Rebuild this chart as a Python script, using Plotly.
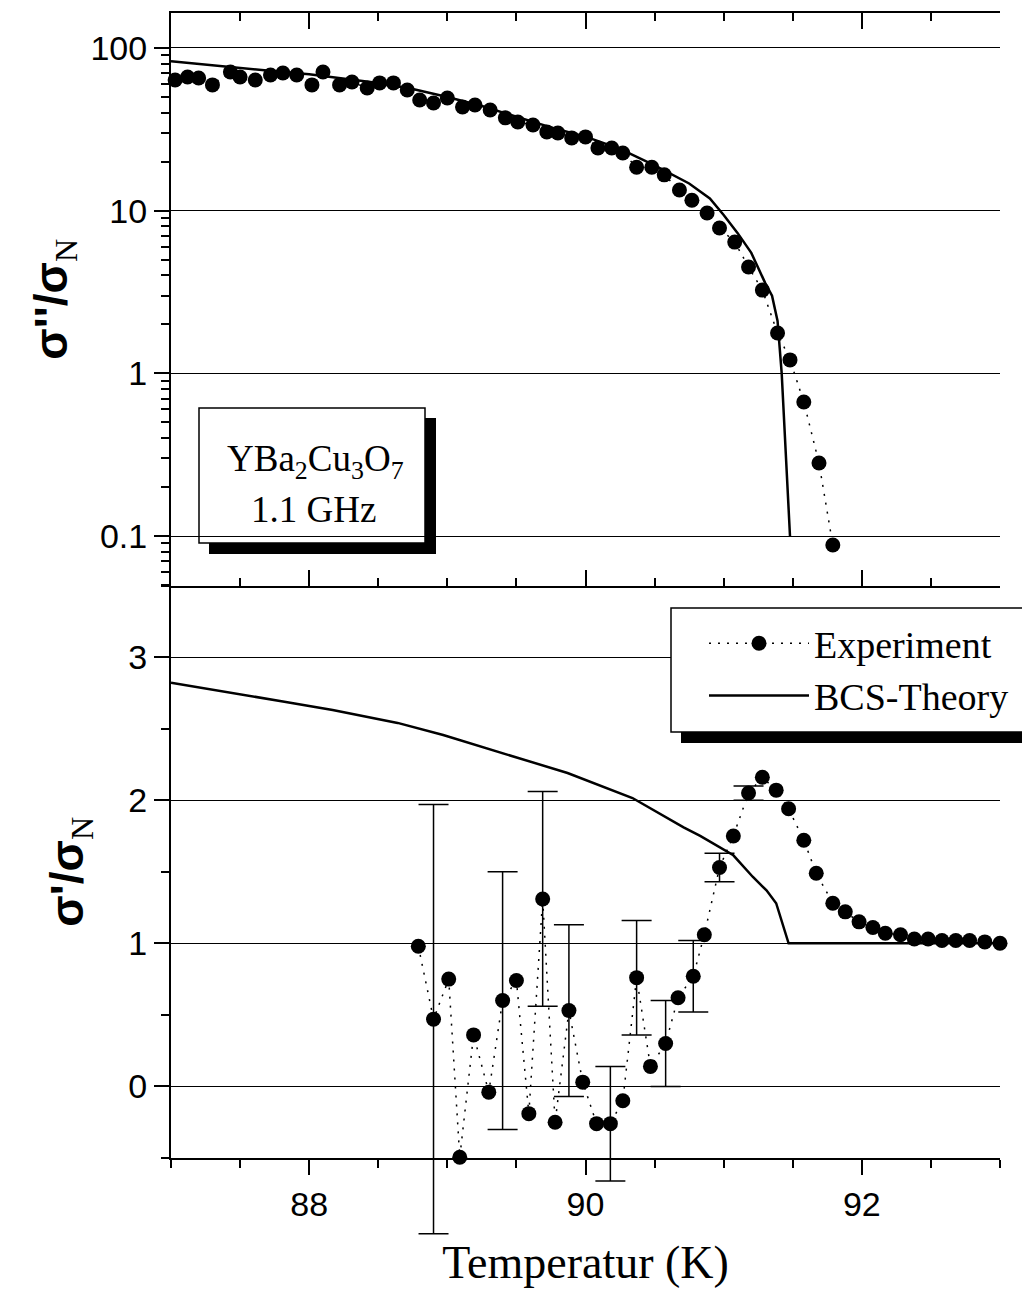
import plotly.graph_objects as go

# ---------------- data ----------------
# top panel: sigma''/sigma_N (log scale)
top_T = [87.03, 87.12, 87.20, 87.30, 87.43, 87.50, 87.61, 87.72, 87.81, 87.91,
         88.02, 88.10, 88.22, 88.31, 88.42, 88.51, 88.61, 88.71, 88.80, 88.90,
         89.00, 89.11, 89.20, 89.31, 89.42, 89.51, 89.62, 89.72, 89.80, 89.90,
         90.00, 90.09, 90.19, 90.27, 90.37, 90.48, 90.57, 90.68, 90.77, 90.88,
         90.97, 91.08, 91.18, 91.28, 91.39, 91.48, 91.58, 91.69, 91.79]
top_val = [63.6, 66.3, 65.4, 59.3, 71.2, 66.3, 63.6, 68.2, 70.2, 68.2,
           59.3, 71.2, 59.3, 61.8, 56.8, 61.0, 61.0, 55.2, 47.9, 45.9,
           49.3, 43.4, 44.6, 41.6, 37.2, 35.1, 33.6, 30.5, 30.0, 28.0,
           28.4, 24.3, 24.3, 22.6, 18.5, 18.5, 16.6, 13.4, 11.6, 9.68,
           7.82, 6.41, 4.51, 3.25, 1.77, 1.21, 0.667, 0.281, 0.088]

bcs_top_T = [87.0, 87.25, 87.5, 87.75, 88.0, 88.25, 88.5, 88.75, 89.0, 89.25,
             89.5, 89.75, 90.0, 90.25, 90.5, 90.6, 90.75, 90.9, 91.0, 91.1,
             91.2, 91.3, 91.35, 91.39, 91.42, 91.48]
bcs_top_val = [83, 79, 75, 72, 69, 65, 61, 56, 50, 44,
               38, 32.5, 28.5, 24, 19, 17.1, 14.7, 11.9, 9.4, 7.3,
               5.5, 3.6, 3.0, 2.1, 1.0, 0.1]

# bottom panel: sigma'/sigma_N (linear)
bot_T = [88.79, 88.90, 89.01, 89.09, 89.19, 89.30, 89.40, 89.50, 89.59, 89.69,
         89.78, 89.88, 89.98, 90.08, 90.18, 90.27, 90.37, 90.47, 90.58, 90.67,
         90.78, 90.86, 90.97, 91.07, 91.18, 91.28, 91.38, 91.47, 91.58, 91.67,
         91.79, 91.88, 91.98, 92.08, 92.17, 92.28, 92.38, 92.48, 92.58, 92.68,
         92.78, 92.89, 93.00]
bot_val = [0.98, 0.47, 0.75, -0.495, 0.36, -0.04, 0.60, 0.74, -0.19, 1.31,
           -0.25, 0.53, 0.03, -0.26, -0.26, -0.10, 0.76, 0.14, 0.30, 0.62,
           0.77, 1.06, 1.53, 1.75, 2.05, 2.16, 2.07, 1.94, 1.72, 1.49,
           1.28, 1.22, 1.15, 1.11, 1.07, 1.06, 1.03, 1.03, 1.02, 1.02,
           1.02, 1.01, 1.00]
# error bars: index into bot_T / bot_val and their +/- size
err_idx = [1, 6, 9, 11, 14, 16, 18, 20, 22, 24]
err_sd = [1.5, 0.9, 0.75, 0.6, 0.4, 0.4, 0.3, 0.25, 0.1, 0.05]

bcs_bot_T = [87.0, 87.45, 87.81, 88.17, 88.64, 88.97, 89.26, 89.51, 89.87, 90.34,
             90.71, 90.83, 91.07, 91.21, 91.31, 91.38, 91.47, 92.0, 93.0]
bcs_bot_val = [2.82, 2.75, 2.69, 2.63, 2.54, 2.455, 2.37, 2.295, 2.19, 2.015,
               1.81, 1.75, 1.615, 1.465, 1.37, 1.28, 1.0, 1.0, 1.0]

x_range = [87, 93]
x_ticks = [88, 90, 92]
top_range_log = [-1.304, 2.215]
top_ticks = [0.1, 1, 10, 100]
top_ticktext = ["0.1", "1", "10", "100"]
bot_range = [-0.5, 3.5]
bot_ticks = [0, 1, 2, 3]

# ---------------- layout constants ----------------
W, H = 1022, 1293
ML, MR, MT, MB = 171, 22, 13, 40
PW = W - ML - MR
PH = H - MT - MB
PX_AXIS_BOTTOM = 1158.0   # pixel row of the bottom x axis
PX_MID = 585.5            # pixel row of the shared middle axis


def pxx(p):
    return (p - ML) / PW


def pxy(p):
    return (H - MB - p) / PH


d_bot0 = pxy(PX_AXIS_BOTTOM)
d_mid = pxy(PX_MID)
# hidden helper axis for error bars, extending below the bottom axis
units_per_px = (bot_range[1] - bot_range[0]) / (PX_AXIS_BOTTOM - PX_MID)
err_range = [bot_range[1] - (H - MB - PX_MID) * units_per_px, bot_range[1]]

SANS = "Liberation Sans, Arial, sans-serif"
SERIF = "Liberation Serif, Times New Roman, serif"
BLACK = "black"

fig = go.Figure()

# error bars (bottom panel, on hidden helper axes with identical scale)
err_T = [bot_T[i] for i in err_idx]
err_v = [bot_val[i] for i in err_idx]
fig.add_trace(go.Scatter(
    x=err_T, y=err_v, mode="markers", xaxis="x4", yaxis="y4",
    marker=dict(size=2, color="rgba(0,0,0,0)"),
    error_y=dict(type="data", array=err_sd, color=BLACK, thickness=1.5, width=15),
    showlegend=False, cliponaxis=False, hoverinfo="skip"))

fig.add_trace(go.Scatter(
    x=bcs_bot_T, y=bcs_bot_val, mode="lines", xaxis="x", yaxis="y",
    line=dict(color=BLACK, width=2.5), showlegend=False))

fig.add_trace(go.Scatter(
    x=bot_T, y=bot_val, mode="lines+markers", xaxis="x", yaxis="y",
    line=dict(color=BLACK, width=1.5, dash="2px,7px"),
    marker=dict(size=15, color=BLACK), showlegend=False, cliponaxis=False))

# top panel
fig.add_trace(go.Scatter(
    x=top_T, y=top_val, mode="lines+markers", xaxis="x2", yaxis="y2",
    name="Experiment",
    line=dict(color=BLACK, width=1.5, dash="2px,7px"),
    marker=dict(size=15, color=BLACK), cliponaxis=False))

fig.add_trace(go.Scatter(
    x=bcs_top_T, y=bcs_top_val, mode="lines", xaxis="x2", yaxis="y2",
    name="BCS-Theory", line=dict(color=BLACK, width=2.5)))

tickfont = dict(family=SANS, size=34, color=BLACK)

xbase = dict(range=x_range, tickmode="array", tickvals=x_ticks,
             showline=True, linecolor=BLACK, linewidth=2, showgrid=False,
             zeroline=False, tickcolor=BLACK, tickwidth=2)

ytitle_top = ("<b>σ''/σ</b><sub><span style=\"font-family:Liberation Serif;"
              "font-weight:normal\">N</span></sub>")
ytitle_bot = ("<b>σ'/σ</b><sub><span style=\"font-family:Liberation Serif;"
              "font-weight:normal\">N</span></sub>")

fig.update_layout(
    width=W, height=H,
    margin=dict(l=ML, r=MR, t=MT, b=MB, pad=0, autoexpand=False),
    paper_bgcolor="white", plot_bgcolor="rgba(0,0,0,0)",
    showlegend=True,
    xaxis=dict(**xbase, anchor="y", domain=[0, 1], ticks="outside", ticklen=15,
               tickfont=tickfont, ticklabelstandoff=0,
               minor=dict(dtick=0.5, tick0=87, ticks="outside", ticklen=8,
                          tickwidth=2, tickcolor=BLACK),
               title=dict(text="Temperatur (K)",
                          font=dict(family=SERIF, size=46, color=BLACK),
                          standoff=24)),
    xaxis2=dict(**xbase, anchor="y2", domain=[0, 1], ticks="inside", ticklen=16,
                mirror="ticks", showticklabels=False, matches="x",
                minor=dict(dtick=0.5, tick0=87, ticks="inside", ticklen=8,
                           tickwidth=2, tickcolor=BLACK)),
    xaxis3=dict(**xbase, anchor="y", overlaying="x", side="top", ticks="inside",
                ticklen=10, showticklabels=False,
                minor=dict(dtick=0.5, tick0=87, ticks="inside", ticklen=8,
                           tickwidth=2, tickcolor=BLACK)),
    xaxis4=dict(range=x_range, domain=[0, 1], anchor="y4", visible=False),
    yaxis4=dict(range=err_range, domain=[0, d_mid], anchor="x4", visible=False),
    yaxis=dict(domain=[d_bot0, d_mid], range=bot_range, anchor="x",
               tickmode="array", tickvals=bot_ticks, tickfont=tickfont,
               showline=True, linecolor=BLACK, linewidth=2,
               showgrid=True, gridcolor=BLACK, gridwidth=1.2, zeroline=False,
               ticks="outside", ticklen=15, tickwidth=2, tickcolor=BLACK,
               minor=dict(dtick=0.5, tick0=0, ticks="outside", ticklen=8,
                          tickwidth=2, tickcolor=BLACK, showgrid=False),
               title=dict(text=ytitle_bot,
                          font=dict(family=SANS, size=46, color=BLACK),
                          standoff=30)),
    yaxis2=dict(domain=[d_mid, 1], type="log", range=top_range_log, anchor="x2",
                tickmode="array", tickvals=top_ticks, ticktext=top_ticktext,
                tickfont=tickfont,
                showline=True, linecolor=BLACK, linewidth=2,
                showgrid=True, gridcolor=BLACK, gridwidth=1.2, zeroline=False,
                ticks="outside", ticklen=15, tickwidth=2, tickcolor=BLACK,
                minor=dict(tickmode="array",
                           tickvals=[m * 10 ** e for e in range(-2, 3) for m in range(2, 10)],
                           ticks="outside", ticklen=8, tickwidth=2,
                           tickcolor=BLACK, showgrid=False),
                title=dict(text=ytitle_top,
                           font=dict(family=SANS, size=46, color=BLACK),
                           standoff=8)),
    legend=dict(x=pxx(704), y=pxy(612), xanchor="left", yanchor="top",
                bgcolor="rgba(0,0,0,0)", borderwidth=0,
                font=dict(family=SERIF, size=38, color=BLACK),
                itemwidth=100, tracegroupgap=0),
    shapes=[
        # legend shadow + box
        dict(type="rect", xref="paper", yref="paper", layer="above",
             x0=pxx(681), x1=pxx(1040), y0=pxy(743), y1=pxy(618),
             fillcolor=BLACK, line=dict(width=0)),
        dict(type="rect", xref="paper", yref="paper", layer="above",
             x0=pxx(671), x1=pxx(1032), y0=pxy(732), y1=pxy(608),
             fillcolor="white", line=dict(color=BLACK, width=1.5)),
        # sample box shadow + box
        dict(type="rect", xref="paper", yref="paper", layer="below",
             x0=pxx(209), x1=pxx(436), y0=pxy(554), y1=pxy(418),
             fillcolor=BLACK, line=dict(width=0)),
        dict(type="rect", xref="paper", yref="paper", layer="below",
             x0=pxx(199), x1=pxx(425), y0=pxy(543), y1=pxy(408),
             fillcolor="white", line=dict(color=BLACK, width=1.5)),
    ],
    annotations=[
        dict(text="YBa<sub>2</sub>Cu<sub>3</sub>O<sub>7</sub>", xref="paper", yref="paper",
             x=pxx(315), y=pxy(462), xanchor="center", yanchor="middle",
             showarrow=False, font=dict(family=SERIF, size=37, color=BLACK)),
        dict(text="1.1 GHz", xref="paper", yref="paper",
             x=pxx(313), y=pxy(509), xanchor="center", yanchor="middle",
             showarrow=False, font=dict(family=SERIF, size=37, color=BLACK)),
    ],
)

fig.write_html("out.html")
